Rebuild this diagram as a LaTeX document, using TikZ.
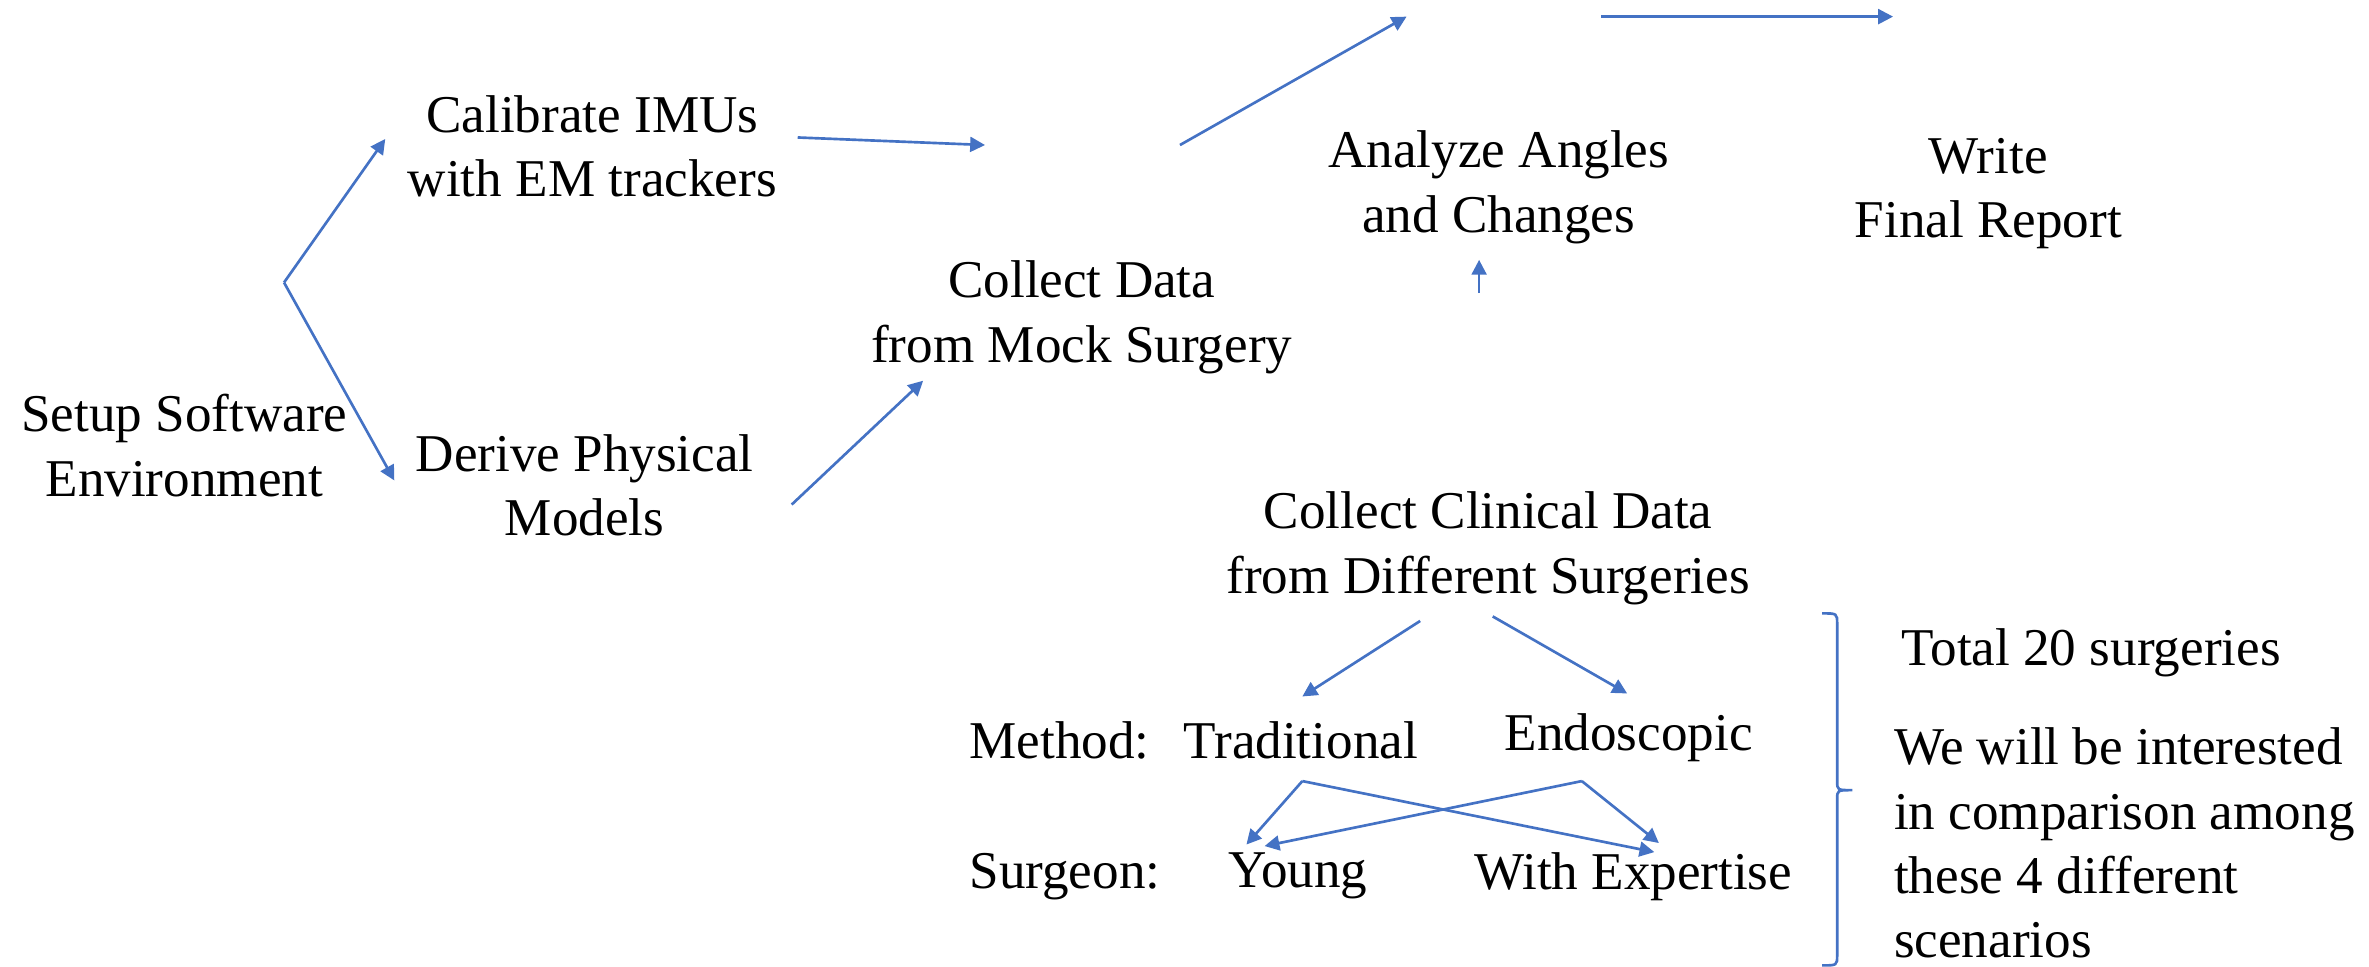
\documentclass[tikz,border=0pt]{standalone}
\usepackage{fontspec}
\setmainfont{Liberation Serif}
\usetikzlibrary{arrows.meta}
\definecolor{flowblue}{HTML}{4472C4}
\tikzset{
	flow/.style={draw=flowblue, line width=0.5pt, -{Triangle[length=2.8pt,width=2.8pt]}},
	plainline/.style={draw=flowblue, line width=0.5pt},
	txt/.style={align=center, inner sep=0pt, font=\fontsize{10}{12.1}\selectfont},
}

\begin{document}
\begin{tikzpicture}[x=0.01cm, y=-0.01cm]
		%%%%% START %%%%%
		\useasboundingbox (0, 0) rectangle (1568, 640);
		
		\node[txt] (setup) at (122, 295) {Setup Software\\Environment};
		\node[txt] (calib) at (392, 97) {Calibrate IMUs\\with EM trackers};
		\node[txt] (derive) at (387, 321) {Derive Physical\\Models};
		\node[txt] (mock) at (716, 210) {Collect Data\\from Mock Surgery};
		\node[txt] (analyze) at (992, 124) {Analyze Angles\\and Changes};
		\node[txt] (report) at (1316, 128) {Write\\Final Report};
		\node[txt] (clinical) at (985, 363) {Collect Clinical Data\\from Different Surgeries};
		
		\node[txt, anchor=west] (method) at (641, 490) {Method:};
		\node[txt] (trad) at (861, 490) {Traditional};
		\node[txt] (endo) at (1078, 488) {Endoscopic};
		\node[txt, anchor=west] (surgeon) at (641, 580) {Surgeon:};
		\node[txt] (young) at (859, 580) {Young};
		\node[txt] (expert) at (1081, 580) {With Expertise};
		
		\node[txt, anchor=west] (total) at (1258, 432) {Total 20 surgeries};
		\node[txt, align=left, anchor=west] (compare) at (1253, 558) {We will be interested\\in comparison among\\these 4 different\\scenarios};
		
		% free ends of the connectors
		\coordinate (fork) at (188, 187);
		\coordinate (calibIn) at (255, 92);
		\coordinate (deriveIn) at (261, 318);
		\coordinate (calibOut) at (528, 91);
		\coordinate (mockTop) at (652, 96);
		\coordinate (deriveOut) at (524, 334);
		\coordinate (mockIn) at (611, 252);
		\coordinate (mockOut) at (781, 96);
		\coordinate (analyzeTop) at (931, 11);
		\coordinate (analyzeRight) at (1060, 11);
		\coordinate (reportTop) at (1253, 11);
		\coordinate (analyzeLow) at (979, 194);
		\coordinate (analyzeIn) at (979, 172);
		\coordinate (clinicalL) at (940, 411);
		\coordinate (clinicalR) at (988, 408);
		\coordinate (tradIn) at (862, 461);
		\coordinate (endoIn) at (1077, 459);
		\coordinate (tradOut) at (862, 517);
		\coordinate (endoOut) at (1047, 517);
		
		\draw[flow] (fork) -- (calibIn);
		\draw[flow] (fork) -- (deriveIn);
		\draw[flow] (calibOut) -- (mockTop);
		\draw[flow] (deriveOut) -- (mockIn);
		\draw[flow] (mockOut) -- (analyzeTop);
		\draw[flow] (analyzeRight) -- (reportTop);
		\draw[flow] (analyzeLow) -- (analyzeIn);
		
		\draw[flow] (clinicalL) -- (tradIn);
		\draw[flow] (clinicalR) -- (endoIn);
		\draw[flow] (tradOut) -- (825, 559);
		\draw[flow] (tradOut) -- (1095, 564);
		\draw[flow] (endoOut) -- (837, 560);
		\draw[flow] (endoOut) -- (1098, 558);
		
		% brace
		\draw[plainline] (1206, 406) .. controls (1216, 406) .. (1216, 413) -- (1216, 517)
			.. controls (1216, 523) .. (1226, 523) .. controls (1216, 523) .. (1216, 529)
			-- (1216, 632) .. controls (1216, 639) .. (1206, 639);
		
		%%%%% END %%%%%
\end{tikzpicture}
\end{document}
